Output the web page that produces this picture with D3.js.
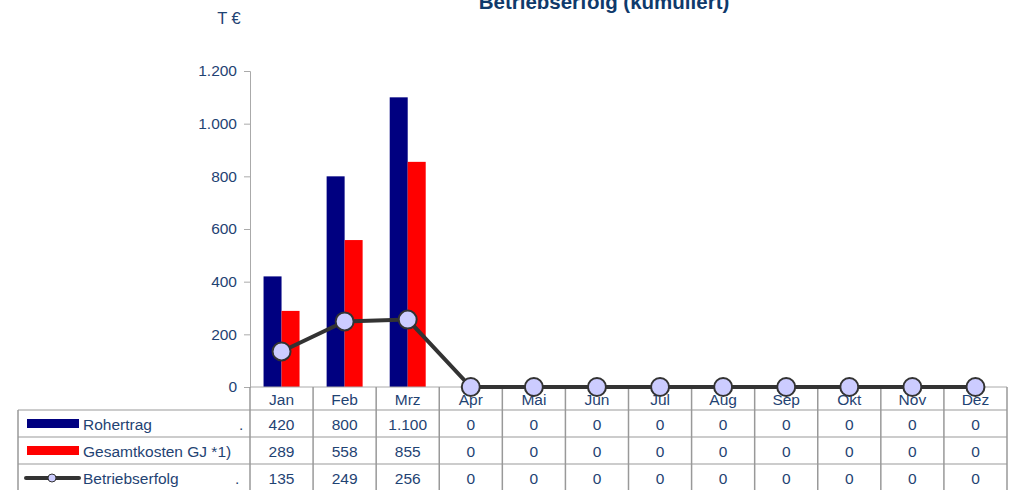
<!DOCTYPE html>
<html>
<head>
<meta charset="utf-8">
<script src="https://cdn.jsdelivr.net/npm/d3@7"></script>
<style>
  body { margin: 0; background: #fff; }
  text { font-family: "Liberation Sans", Arial, sans-serif; }
</style>
</head>
<body>
<div class="container"></div>
<script>
// Data
const months = ["Jan", "Feb", "Mrz", "Apr", "Mai", "Jun", "Jul", "Aug", "Sep", "Okt", "Nov", "Dez"]
const rohertrag = [420, 800, 1100, 0, 0, 0, 0, 0, 0, 0, 0, 0]
const gesamtkosten = [289, 558, 855, 0, 0, 0, 0, 0, 0, 0, 0, 0]
const betriebserfolg = [135, 249, 256, 0, 0, 0, 0, 0, 0, 0, 0, 0]
const yTicks = [0, 200, 400, 600, 800, 1000, 1200]

const seriesNames = ["Rohertrag", "Gesamtkosten GJ *1)", "Betriebserfolg"]
const textColor = "#1f4373"
const fs = 15.5

const width = 1017
const height = 490
const margin = {left: 250, right: 10, top: 71, bottom: 103}

const svg = d3.select(".container")
    .append("svg")
    .attr("width", width)
    .attr("height", height)

// Scales
const x = d3.scaleBand()
    .domain(months)
    .range([margin.left, width - margin.right])

const y = d3.scaleLinear()
    .domain([0, 1200])
    .range([height - margin.bottom, margin.top])

const fmt = d3.formatLocale({decimal: ",", thousands: ".", grouping: [3], currency: ["", " €"]}).format(",")

// Title + unit
svg.append("text")
    .attr("x", 604)
    .attr("y", 9)
    .attr("text-anchor", "middle")
    .attr("font-size", 20.5)
    .attr("font-weight", "bold")
    .attr("fill", "#0f3a6b")
    .text("Betriebserfolg (kumuliert)")

svg.append("text")
    .attr("x", 229)
    .attr("y", 24)
    .attr("text-anchor", "middle")
    .attr("font-size", 16.5)
    .attr("fill", textColor)
    .text("T €")

// Y axis
const yAxis = svg.append("g")
    .attr("transform", `translate(${margin.left},0)`)
    .call(d3.axisLeft(y).tickValues(yTicks).tickFormat(fmt).tickSize(6).tickPadding(7))

yAxis.select(".domain").attr("stroke", "#aaa")
yAxis.selectAll(".tick line").attr("stroke", "#aaa")
yAxis.selectAll(".tick text")
    .attr("font-size", fs)
    .attr("font-family", "Liberation Sans, Arial, sans-serif")
    .attr("fill", textColor)

// Bars
const bw = 18
svg.append("g").selectAll("rect")
    .data(months)
    .join("rect")
    .attr("x", d => x(d) + x.bandwidth() / 2 - bw)
    .attr("y", (d, i) => y(rohertrag[i]))
    .attr("width", bw)
    .attr("height", (d, i) => y(0) - y(rohertrag[i]))
    .attr("fill", "#000080")

svg.append("g").selectAll("rect")
    .data(months)
    .join("rect")
    .attr("x", d => x(d) + x.bandwidth() / 2)
    .attr("y", (d, i) => y(gesamtkosten[i]))
    .attr("width", bw)
    .attr("height", (d, i) => y(0) - y(gesamtkosten[i]))
    .attr("fill", "#ff0000")

// Table
const rowTop = y(0)
const headH = 23
const rowH = 27
const tableLeft = 18
const tableRight = width - margin.right
const grid = svg.append("g")

// horizontal lines
grid.append("line")
    .attr("x1", margin.left).attr("x2", tableRight)
    .attr("y1", rowTop).attr("y2", rowTop)
    .attr("stroke", "#aaa")
for (let r = 0; r <= 3; r++) {
    const yy = rowTop + headH + r * rowH
    grid.append("line")
        .attr("x1", tableLeft).attr("x2", tableRight)
        .attr("y1", yy).attr("y2", yy)
        .attr("stroke", "#bbb").attr("stroke-width", 1.5)
}
// vertical lines
months.forEach(m => {
    grid.append("line")
        .attr("x1", x(m)).attr("x2", x(m))
        .attr("y1", rowTop).attr("y2", height)
        .attr("stroke", "#999").attr("stroke-width", 1.5)
})
grid.append("line")
    .attr("x1", tableRight).attr("x2", tableRight)
    .attr("y1", rowTop).attr("y2", height)
    .attr("stroke", "#999").attr("stroke-width", 1.5)
grid.append("line")
    .attr("x1", tableLeft).attr("x2", tableLeft)
    .attr("y1", rowTop + headH).attr("y2", height)
    .attr("stroke", "#999").attr("stroke-width", 1.5)

// header labels
svg.append("g").selectAll("text")
    .data(months)
    .join("text")
    .attr("x", d => x(d) + x.bandwidth() / 2)
    .attr("y", rowTop + 18)
    .attr("text-anchor", "middle")
    .attr("font-size", fs)
    .attr("fill", textColor)
    .text(d => d)

// row values
const rows = [rohertrag, gesamtkosten, betriebserfolg]
rows.forEach((vals, r) => {
    const base = rowTop + headH + r * rowH
    svg.append("g").selectAll("text")
        .data(vals)
        .join("text")
        .attr("x", (d, i) => x(months[i]) + x.bandwidth() / 2)
        .attr("y", base + 19.5)
        .attr("text-anchor", "middle")
        .attr("font-size", fs)
        .attr("fill", textColor)
        .text(d => fmt(d))

    svg.append("text")
        .attr("x", 83)
        .attr("y", base + 19.5)
        .attr("font-size", fs)
        .attr("fill", textColor)
        .text(seriesNames[r])

    if (r !== 1) {
        svg.append("text")
            .attr("x", r === 0 ? 239 : 235)
            .attr("y", base + 19.5)
            .attr("font-size", fs)
            .attr("fill", textColor)
            .text(".")
    }
})

// legend swatches
svg.append("rect")
    .attr("x", 27).attr("y", rowTop + headH + 9)
    .attr("width", 52).attr("height", 9)
    .attr("fill", "#000080")
svg.append("rect")
    .attr("x", 27).attr("y", rowTop + headH + rowH + 9)
    .attr("width", 52).attr("height", 9)
    .attr("fill", "#ff0000")
const ly = rowTop + headH + 2 * rowH + 14
svg.append("line")
    .attr("x1", 26).attr("x2", 79)
    .attr("y1", ly).attr("y2", ly)
    .attr("stroke", "#333").attr("stroke-width", 4).attr("stroke-linecap", "round")
svg.append("circle")
    .attr("cx", 52).attr("cy", ly).attr("r", 4)
    .attr("fill", "#ccccff").attr("stroke", "#333").attr("stroke-width", 1)

// Line
const line = d3.line()
    .x((d, i) => x(months[i]) + x.bandwidth() / 2)
    .y(d => y(d))

svg.append("path")
    .datum(betriebserfolg)
    .attr("d", line)
    .attr("fill", "none")
    .attr("stroke", "#333")
    .attr("stroke-width", 4)

svg.append("g").selectAll("circle")
    .data(betriebserfolg)
    .join("circle")
    .attr("cx", (d, i) => x(months[i]) + x.bandwidth() / 2)
    .attr("cy", d => y(d))
    .attr("r", 9)
    .attr("fill", "#ccccff")
    .attr("stroke", "#333")
    .attr("stroke-width", 2)
</script>
</body>
</html>
